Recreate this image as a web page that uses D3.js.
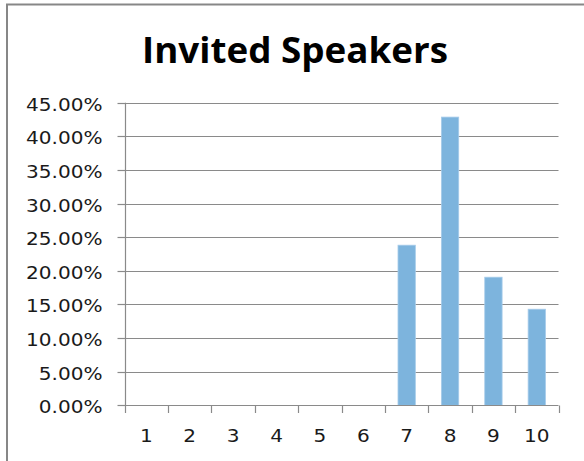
<!DOCTYPE html>
<html>
<head>
<meta charset="utf-8">
<script src="https://cdn.jsdelivr.net/npm/d3@7"></script>
<style>
  html, body { margin: 0; padding: 0; background: #fff; }
  svg { display: block; }
</style>
</head>
<body>
<svg id="chart" width="584" height="461"></svg>
<script>
// Share of ratings per score for invited speakers
const categories = ["1", "2", "3", "4", "5", "6", "7", "8", "9", "10"];
const shares = [0, 0, 0, 0, 0, 0, 0.2381, 0.4286, 0.1905, 0.1429];
const yTicks = [0, 0.05, 0.10, 0.15, 0.20, 0.25, 0.30, 0.35, 0.40, 0.45];
const title = "Invited Speakers";

const svg = d3.select("#chart");
const W = 584, H = 461;
const plot = { left: 124.7, right: 558.5, top: 102.7, bottom: 405.3 };
const gridColor = "#8a8a8a";
const labelFont = "'DejaVu Sans', Verdana, sans-serif";

// outer chart frame (top and left edges fall inside the view)
svg.append("rect")
  .attr("x", 7).attr("y", 4.5)
  .attr("width", W + 20).attr("height", H + 20)
  .attr("fill", "#fff")
  .attr("stroke", "#878787").attr("stroke-width", 2);

const x = d3.scaleBand().domain(categories).range([plot.left, plot.right]).padding(0);
const y = d3.scaleLinear().domain([0, 0.45]).range([plot.bottom, plot.top]);

// horizontal gridlines
svg.append("g").selectAll("line").data(yTicks.slice(1)).join("line")
  .attr("x1", plot.left).attr("x2", plot.right)
  .attr("y1", d => Math.round(y(d)) + 0.5).attr("y2", d => Math.round(y(d)) + 0.5)
  .attr("stroke", gridColor).attr("stroke-width", 1.2);

// bars
const barFrac = 0.4;
svg.append("g").selectAll("rect").data(categories.map((c, i) => ({ c, v: shares[i] })).filter(d => d.v > 0))
  .join("rect")
  .attr("x", d => x(d.c) + x.bandwidth() * (1 - barFrac) / 2)
  .attr("width", x.bandwidth() * barFrac)
  .attr("y", d => y(d.v))
  .attr("height", d => y(0) - y(d.v))
  .attr("fill", "#7db4dd")
  .attr("stroke", "#a6cbea").attr("stroke-width", 0.8);

// y axis
const yAxis = d3.axisLeft(y)
  .tickValues(yTicks)
  .tickFormat(d3.format(".2%"))
  .tickSizeInner(8).tickSizeOuter(0).tickPadding(15);
const gy = svg.append("g")
  .attr("transform", `translate(${Math.round(plot.left) + 0.5},0)`)
  .call(yAxis);
gy.select(".domain").attr("stroke", gridColor).attr("stroke-width", 1.2)
  .attr("d", `M0,${y(0.45)}V${y(0)}`);
gy.selectAll(".tick line").attr("stroke", gridColor).attr("stroke-width", 1.2);
gy.selectAll(".tick").attr("transform", d => `translate(0,${Math.round(y(d)) + 0.5})`);
gy.selectAll(".tick text")
  .attr("font-family", labelFont).attr("font-size", 17)
  .attr("fill", "#1a1a1a").attr("dy", "0.42em");

// x axis line and boundary ticks
const xg = svg.append("g");
xg.append("line")
  .attr("x1", plot.left).attr("x2", plot.right)
  .attr("y1", Math.round(y(0)) + 0.5).attr("y2", Math.round(y(0)) + 0.5)
  .attr("stroke", gridColor).attr("stroke-width", 1.2);
const bounds = categories.map(c => x(c)).concat([x(categories[categories.length - 1]) + x.bandwidth()]);
xg.selectAll("line.tick").data(bounds).join("line").attr("class", "tick")
  .attr("x1", d => Math.round(d) + 0.5).attr("x2", d => Math.round(d) + 0.5)
  .attr("y1", Math.round(y(0)) + 0.5).attr("y2", Math.round(y(0)) + 8)
  .attr("stroke", gridColor).attr("stroke-width", 1.2);
xg.selectAll("text").data(categories).join("text")
  .attr("x", d => x(d) + x.bandwidth() / 2)
  .attr("y", 442)
  .attr("text-anchor", "middle")
  .attr("font-family", labelFont).attr("font-size", 17)
  .attr("fill", "#1a1a1a")
  .text(d => d);

// widen the tick labels to the chart's broad lettering
svg.selectAll("g text").each(function () {
  const n = this.getComputedTextLength();
  d3.select(this).attr("textLength", n * 1.18).attr("lengthAdjust", "spacingAndGlyphs");
});

// title
svg.append("text")
  .attr("x", 295).attr("y", 62.5)
  .attr("text-anchor", "middle")
  .attr("font-family", "'Open Sans', Lato, sans-serif")
  .attr("font-weight", 700).attr("font-size", 36)
  .attr("fill", "#000")
  .attr("textLength", 306).attr("lengthAdjust", "spacingAndGlyphs")
  .text(title);
</script>
</body>
</html>
